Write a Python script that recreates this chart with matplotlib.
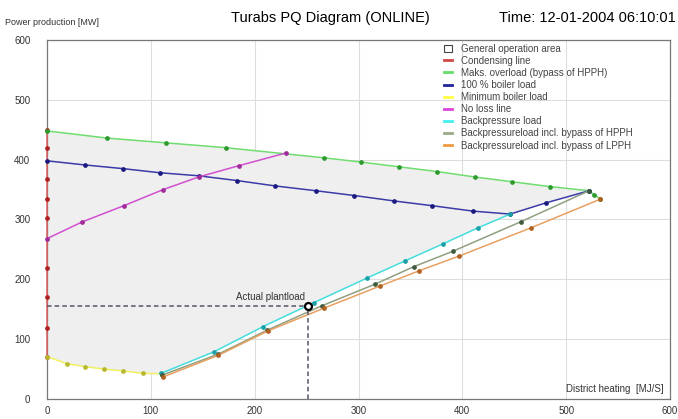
"""Turabs PQ diagram (power vs district heating)."""

import matplotlib
matplotlib.use("Agg")
import matplotlib.pyplot as plt  # noqa: E402
from matplotlib.lines import Line2D  # noqa: E402
from matplotlib.patches import Patch  # noqa: E402

plt.rcParams["font.family"] = ["Liberation Sans", "DejaVu Sans"]

# District heating [MJ/s] vs power production [MW]
cond_x = [0, 0, 0, 0, 0, 0, 0, 0, 0]
cond_y = [71, 118, 170, 219, 302, 334, 367, 419, 449]

overload_x = [0, 58, 115, 172, 267, 302, 339, 376, 412, 448, 484, 522, 527, 533]
overload_y = [448, 436, 428, 420, 403, 396, 388, 380, 371, 363, 355, 348, 341, 334]

boiler100_x = [0, 37, 73, 109, 146, 183, 220, 259, 296, 334, 371, 410, 446, 481, 522]
boiler100_y = [398, 391, 385, 378, 373, 365, 356, 348, 340, 331, 323, 314, 309, 328, 348]

minload_x = [0, 19, 37, 55, 73, 92, 111]
minload_y = [71, 59, 54, 50, 47, 43, 42]

noloss_x = [0, 34, 74, 112, 146, 185, 230]
noloss_y = [268, 296, 323, 350, 371, 390, 411]

backp_x = [110, 161, 208, 257, 308, 345, 381, 415, 446]
backp_y = [43, 79, 121, 161, 202, 231, 259, 286, 309]

hpph_x = [111, 165, 212, 265, 316, 353, 391, 456, 522]
hpph_y = [40, 75, 115, 156, 192, 221, 247, 296, 348]

lpph_x = [112, 165, 213, 267, 321, 358, 397, 466, 533]
lpph_y = [37, 73, 114, 152, 189, 214, 239, 286, 334]

plant_x = 251
plant_y = 156

legend_labels = [
    "General operation area",
    "Condensing line",
    "Maks. overload (bypass of HPPH)",
    "100 % boiler load",
    "Minimum boiler load",
    "No loss line",
    "Backpressure load",
    "Backpressureload incl. bypass of HPPH",
    "Backpressureload incl. bypass of LPPH",
]

TEXT = "#333333"
GRID = "#dddddd"

fig = plt.figure(figsize=(6.78, 4.19), dpi=100)
fig.patch.set_facecolor("white")
ax = fig.add_axes([0.0693, 0.0477, 0.919, 0.857])

# General operation area: yellow -> cyan -> blue rise -> green -> red
area_x = minload_x + backp_x[1:] + boiler100_x[-2:] + overload_x[-2:] + overload_x[::-1][2:]
area_y = minload_y + backp_y[1:] + boiler100_y[-2:] + overload_y[-2:] + overload_y[::-1][2:]
ax.fill(area_x, area_y, color="#efefef", zorder=1, lw=0)

series = [
    (cond_x, cond_y, "#e06060", "#b02020"),
    (overload_x, overload_y, "#70dd70", "#2e9a2e"),
    (boiler100_x, boiler100_y, "#3a3aa8", "#1a1a80"),
    (minload_x, minload_y, "#f0f060", "#b8b830"),
    (noloss_x, noloss_y, "#d050d0", "#a02a9a"),
    (backp_x, backp_y, "#44dddd", "#1aa0a8"),
    (hpph_x, hpph_y, "#8f9f80", "#3f5a3f"),
    (lpph_x, lpph_y, "#e8a060", "#b06020"),
]
for xs, ys, lc, mc in series:
    ax.plot(xs, ys, color=lc, lw=1.1, marker="o", ms=2.4,
            mfc=mc, mec=mc, zorder=3, clip_on=False)

# Actual plant load
ax.plot([0, plant_x], [plant_y, plant_y], color="#555566", lw=1.1,
        ls=(0, (3, 2)), zorder=4)
ax.plot([plant_x, plant_x], [0, plant_y], color="#555566", lw=1.1,
        ls=(0, (3, 2)), zorder=4)
ax.plot([plant_x], [plant_y], marker="o", ms=5, mfc="white", mec="black",
        mew=1.6, zorder=5)
ax.text(plant_x - 3, plant_y + 6, "Actual plantload", color=TEXT,
        fontsize=7, ha="right", va="bottom", zorder=5)

ax.set_xlim(0, 600)
ax.set_ylim(0, 600)
ax.set_xticks(range(0, 601, 100))
ax.set_yticks(range(0, 601, 100))
ax.grid(True, color=GRID, lw=0.8)
ax.set_axisbelow(True)
ax.tick_params(colors=TEXT, labelsize=7, length=0)
ax.tick_params(axis="y", pad=12)
ax.tick_params(axis="x", pad=5)
for s in ax.spines.values():
    s.set_color("#777777")
    s.set_linewidth(0.9)

ax.text(0.99, 0.015, "District heating  [MJ/S]", transform=ax.transAxes,
        fontsize=7, color=TEXT, ha="right", va="bottom")

handles = [Patch(facecolor="white", edgecolor="#444444", lw=0.8)]
handles += [Line2D([0], [0], color=c, lw=2) for c in
            ["#d04848", "#66dd66", "#22229a", "#ffff44", "#dd44dd",
             "#44eeee", "#99aa88", "#ee9944"]]
ax.legend(handles, legend_labels, loc="upper left", bbox_to_anchor=(0.637, 0.99),
          frameon=False, fontsize=7, handlelength=0.8, handleheight=0.7,
          handletextpad=1.0, labelspacing=0.22, borderpad=0, borderaxespad=0,
          labelcolor="#444444")

fig.text(0.488, 0.958, "Turabs PQ Diagram (ONLINE)", fontsize=10.5,
         ha="center", va="center", color="black")
fig.text(0.997, 0.958, "Time: 12-01-2004 06:10:01", fontsize=10.5,
         ha="right", va="center", color="black")
fig.text(0.008, 0.947, "Power production [MW]", fontsize=6.5,
         ha="left", va="center", color=TEXT)

fig.savefig("out.png", facecolor="white")
plt.close(fig)
